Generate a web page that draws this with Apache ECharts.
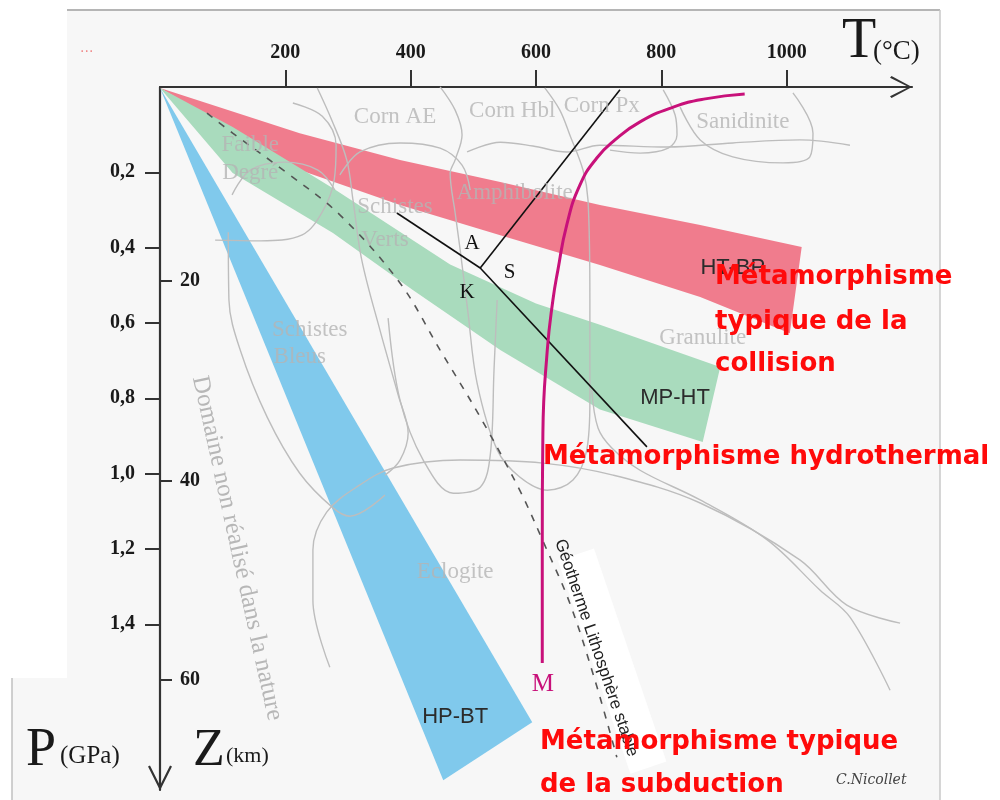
<!DOCTYPE html>
<html><head><meta charset="utf-8">
<script src="https://cdn.jsdelivr.net/npm/echarts@6/dist/echarts.min.js"></script>
<style>html,body{margin:0;padding:0;background:#fff}#c{width:1000px;height:800px}</style>
</head><body><div id="c"></div>
<script>
// ---------- DATA (T in °C, P in GPa, Z in km) ----------
const tTicks = [200, 400, 600, 800, 1000];
const pTicks = [0.2, 0.4, 0.6, 0.8, 1.0, 1.2, 1.4];
const zTicks = [20, 40, 60];

// metamorphic gradient bands
const htbpUpper = [[0,-0.024],[223,0.096],[383,0.167],[543,0.226],[702,0.287],[862,0.340],[1024,0.398]];
const htbpLower = [[0,-0.024],[223,0.194],[383,0.287],[543,0.367],[702,0.446],[862,0.531],[1005,0.627]];
const mphtUpper = [[0,-0.024],[116,0.080],[276,0.242],[463,0.445],[600,0.548],[702,0.605],[894,0.717]];
const mphtLower = [[0,-0.024],[116,0.202],[276,0.361],[404,0.513],[543,0.672],[702,0.830],[866,0.916]];
const hpbtLeft  = [[0,-0.024],[452,1.814]];
const hpbtRight = [[0,-0.024],[594,1.660]];

// geotherm M
const geothermM = [[933,-0.008],[870,0.005],[819,0.027],[766,0.066],[726,0.114],[697,0.162],[670,0.234],[649,0.340],[635,0.459],[627,0.539],[618,0.672],[611,0.892],[610,1.203],[610,1.503]];
// stable lithosphere geotherm (dashed)
const stableGeotherm = [[75,0.043],[116,0.096],[203,0.202],[287,0.313],[383,0.494],[447,0.672],[511,0.850],[574,1.044],[614,1.190],[654,1.344],[694,1.548],[729,1.753]];
// Al2SiO5 triple point reactions
const kyAnd  = [[378,0.308],[511,0.454]];
const kySil  = [[511,0.454],[777,0.929]];
const andSil = [[511,0.454],[734,-0.019]];

// facies boundaries (grey)
const bFaibleHook   = [[212,0.016],[259,0.051],[281,0.128],[278,0.220],[259,0.305],[227,0.366],[160,0.382],[88,0.380]];
const bDomaine      = [[109,0.359],[110,0.539],[128,0.672],[171,0.850],[223,0.999],[276,1.091],[303,1.113],[359,1.057]];
const bFaibleLoop   = [[115,0.260],[144,0.194],[199,0.173],[252,0.194],[279,0.247]];
const bCornAE       = [[251,-0.024],[274,0.061],[298,0.167],[308,0.274],[322,0.433],[351,0.619],[380,0.791],[396,0.892],[383,0.964],[359,1.004]];
const bSchVertsU    = [[364,0.587],[383,0.805],[420,0.964],[468,1.052],[511,1.036],[527,0.951],[533,0.725],[538,0.539]];
const bAmphiU       = [[447,-0.027],[471,0.035],[482,0.101],[471,0.167],[463,0.202],[471,0.308],[479,0.406],[491,0.566],[506,0.760],[538,0.937],[574,1.009],[618,1.044],[659,1.017],[681,0.937],[686,0.805],[686,0.539],[683,0.274],[675,0.194],[654,0.101],[638,0.035],[614,-0.024]];
const bGranulite    = [[689,0.778],[699,0.879],[721,0.932],[766,0.991],[862,1.070],[969,1.176],[1053,1.309],[1101,1.381],[1165,1.575]];
const bEclogite     = [[271,1.514],[244,1.336],[244,1.203],[266,1.102],[319,1.030],[372,0.985],[479,0.964],[611,0.972],[723,1.004],[862,1.078],[1021,1.229],[1096,1.349],[1181,1.397]];
const bCornAEbottom = [[287,0.207],[319,0.146],[383,0.122],[447,0.136],[482,0.181],[495,0.247]];
const bCornTop      = [[490,0.146],[543,0.120],[595,0.130],[649,0.146],[702,0.128],[809,0.133],[914,0.122],[1021,0.114],[1101,0.128]];
const bCornPx       = [[803,-0.019],[822,0.048],[825,0.101],[811,0.136],[766,0.149],[718,0.141]];
const bSanidinite   = [[830,0.027],[862,0.114],[914,0.159],[994,0.175],[1037,0.159],[1042,0.096],[1010,-0.011]];
const boundaries = [bFaibleHook,bDomaine,bFaibleLoop,bCornAE,bSchVertsU,bAmphiU,bGranulite,bEclogite,bCornAEbottom,bCornTop,bCornPx,bSanidinite];

// labels  [text, T, P]
const faciesNames = [
  ['Corn AE',375,0.053],['Corn Hbl',562,0.037],['Corn Px',705,0.024],['Sanidinite',930,0.066],
  ['Faible',144,0.128],['Degré',144,0.202],['Amphibolite',566,0.255],['Schistes',375,0.292],['Verts',359,0.380],
  ['Granulite',866,0.640],['Schistes',239,0.619],['Bleus',223,0.690],['Eclogite',471,1.261]
];
const domaineLabel = [['Domaine non réalisé dans la nature',123,1.198]];
const geothermLabel = [['Géotherme Lithosphère stable',696,1.463]];
const mineralLabels = [['A',498,0.388],['K',490,0.518],['S',558,0.465]];
const gradientLabels = [['HT-BP',914,0.454],['MP-HT',822,0.799],['HP-BT',471,1.646]];
const mLabel = [['M',611,1.561]];

// ---------- CHART ----------
const chart = echarts.init(document.getElementById('c'));
const chevron = 'path://M11,0 L22,20.5 L20.3,22 L11,3.4 L1.7,22 L0,20.5 Z';
const serif = 'Liberation Serif';

function bandSeries(a, b, color) {
  const pts = a.concat(b.slice().reverse());
  return {
    type: 'custom', silent: true, z: 2, data: pts,
    renderItem: (params, api) => {
      if (params.dataIndex !== 0) return null;
      return { type: 'polygon', shape: { points: pts.map(p => api.coord(p)) }, style: { fill: color } };
    }
  };
}
function lineSeries(data, color, width, extra) {
  return Object.assign({
    type: 'line', data: data, symbol: 'none', silent: true, smooth: 0.35, z: 3,
    lineStyle: { color: color, width: width }
  }, extra || {});
}
function textSeries(items, style, rotation, z) {
  return {
    type: 'custom', silent: true, z: z || 8,
    data: items.map(d => [d[1], d[2]]),
    renderItem: (params, api) => {
      const it = items[params.dataIndex];
      const p = api.coord([it[1], it[2]]);
      return { type: 'text', x: p[0], y: p[1], rotation: rotation || 0,
        style: Object.assign({ text: it[0], align: 'center', verticalAlign: 'middle' }, style) };
    }
  };
}
function whiteStrip(items, rotation) {
  return {
    type: 'custom', silent: true, z: 6,
    data: items.map(d => [d[1], d[2]]),
    renderItem: (params, api) => {
      const it = items[params.dataIndex];
      const p = api.coord([it[1], it[2]]);
      return { type: 'rect', x: p[0], y: p[1], rotation: rotation,
        shape: { x: -95, y: -30, width: 225, height: 38 }, style: { fill: '#ffffff' } };
    }
  };
}

const series = [
  bandSeries(htbpUpper, htbpLower, '#f07c8d'),
  bandSeries(mphtUpper, mphtLower, '#a9dbbd'),
  bandSeries(hpbtLeft, hpbtRight, '#80c9ec')
];
boundaries.forEach(b => series.push(lineSeries(b, '#bdbdbd', 1.4)));
series.push(lineSeries(stableGeotherm, '#555', 1.6, { z: 4, lineStyle: { color: '#555', width: 1.6, type: [7, 8] } }));
series.push(lineSeries(kyAnd, '#111', 1.6, { smooth: false, z: 4 }));
series.push(lineSeries(kySil, '#111', 1.6, { smooth: false, z: 4 }));
series.push(lineSeries(andSil, '#111', 1.6, { smooth: false, z: 4 }));
series.push(lineSeries(geothermM, '#c8117a', 3, { z: 5, smooth: 0.5 }));

series.push(whiteStrip(geothermLabel, -1.243));
const greyText = { fill: 'rgba(180,180,180,0.8)', fontFamily: serif, fontSize: 23 };
series.push(textSeries(faciesNames, greyText));
series.push(textSeries(domaineLabel, { fill: 'rgba(175,175,175,0.9)', fontFamily: serif, fontSize: 25 }, -1.354));
series.push(textSeries(geothermLabel, { fill: '#222', fontFamily: 'Liberation Sans', fontSize: 17 }, -1.243, 9));
series.push(textSeries(mineralLabels, { fill: '#111', fontFamily: serif, fontSize: 21 }));
series.push(textSeries(gradientLabels, { fill: '#2b2b2b', fontFamily: 'Liberation Sans', fontSize: 22 }));
series.push(textSeries(mLabel, { fill: '#c8117a', fontFamily: serif, fontSize: 25 }));

const redStyle = { fill: '#ff0a0a', fontFamily: 'DejaVu Sans', fontWeight: 'bold', fontSize: 26, align: 'left', verticalAlign: 'middle' };
function redText(x, y, t) { return { type: 'text', x: x, y: y, z: 100, style: Object.assign({ text: t }, redStyle) }; }
function txt(x, y, t, size, extra) {
  return { type: 'text', x: x, y: y, z: 100, style: Object.assign({ text: t, fill: '#1a1a1a', fontFamily: serif, fontSize: size, align: 'left', verticalAlign: 'middle' }, extra || {}) };
}

chart.setOption({
  animation: false,
  backgroundColor: '#ffffff',
  grid: { left: 160, top: 87, width: 752, height: 703, containLabel: false },
  xAxis: {
    type: 'value', position: 'top', min: 0, max: 1200,
    axisLine: { show: true, onZero: false, lineStyle: { color: '#333', width: 2.2 },
      symbol: ['none', chevron], symbolSize: [22, 22], symbolOffset: [0, -11] },
    axisTick: { show: true, length: 17, customValues: tTicks, lineStyle: { color: '#333', width: 2 } },
    axisLabel: { customValues: tTicks, margin: 24, color: '#1a1a1a', fontFamily: serif, fontSize: 20, fontWeight: 'bold',
      formatter: v => String(v) },
    splitLine: { show: false }
  },
  yAxis: [{
    type: 'value', position: 'left', inverse: true, min: -0.0265, max: 1.84,
    axisLine: { show: true, onZero: false, lineStyle: { color: '#333', width: 2.2 }, symbol: 'none' },
    axisTick: { show: true, length: 15, customValues: pTicks, lineStyle: { color: '#333', width: 2 } },
    axisLabel: { customValues: pTicks, margin: 25, color: '#1a1a1a', fontFamily: serif, fontSize: 20, fontWeight: 'bold',
      formatter: v => v.toFixed(1).replace('.', ',') },
    splitLine: { show: false }
  }, {
    type: 'value', position: 'left', offset: 0, inverse: true, min: 0.55, max: 71.03,
    axisLine: { show: false, onZero: false },
    axisTick: { show: true, inside: true, length: 12, customValues: zTicks, lineStyle: { color: '#333', width: 2 } },
    axisLabel: { customValues: zTicks, inside: true, margin: 20, color: '#1a1a1a', fontFamily: serif, fontSize: 20, fontWeight: 'bold' },
    splitLine: { show: false }
  }],
  graphic: [
    { type: 'polygon', z: -10, silent: true, shape: { points: [[67,10],[940,10],[940,800],[12,800],[12,678],[67,678]] }, style: { fill: '#f7f7f7' } },
    { type: 'line', z: -9, silent: true, shape: { x1: 67, y1: 10, x2: 940, y2: 10 }, style: { stroke: '#b5b5b5', lineWidth: 2 } },
    { type: 'line', z: -9, silent: true, shape: { x1: 940, y1: 10, x2: 940, y2: 800 }, style: { stroke: '#c8c8c8', lineWidth: 1.5 } },
    { type: 'line', z: -9, silent: true, shape: { x1: 12, y1: 678, x2: 12, y2: 800 }, style: { stroke: '#c0c0c0', lineWidth: 1.5 } },
    { type: 'polyline', z: 20, silent: true, shape: { points: [[149,766],[160,788],[171,766]] }, style: { stroke: '#333', lineWidth: 2.2, fill: null } },
    { type: 'text', x: 80, y: 45, z: 100, style: { text: '···', fill: '#f08a8a', fontSize: 14, fontFamily: 'DejaVu Sans' } },
    txt(842, 42, 'T', 56), txt(873, 52, '(°C)', 27),
    txt(26, 751, 'P', 54), txt(60, 756, '(GPa)', 25),
    txt(193, 751, 'Z', 52), txt(226, 756, '(km)', 22),
    { type: 'text', x: 836, y: 780, z: 100, style: { text: 'C.Nicollet', fill: '#444', fontFamily: 'DejaVu Serif', fontStyle: 'italic', fontSize: 14, align: 'left', verticalAlign: 'middle' } },
    redText(715, 277, 'Métamorphisme'),
    redText(715, 322, 'typique de la'),
    redText(715, 364, 'collision'),
    redText(543, 457, 'Métamorphisme hydrothermal'),
    redText(540, 742, 'Métamorphisme typique'),
    redText(540, 785, 'de la subduction')
  ],
  series: series
});
</script></body></html>
